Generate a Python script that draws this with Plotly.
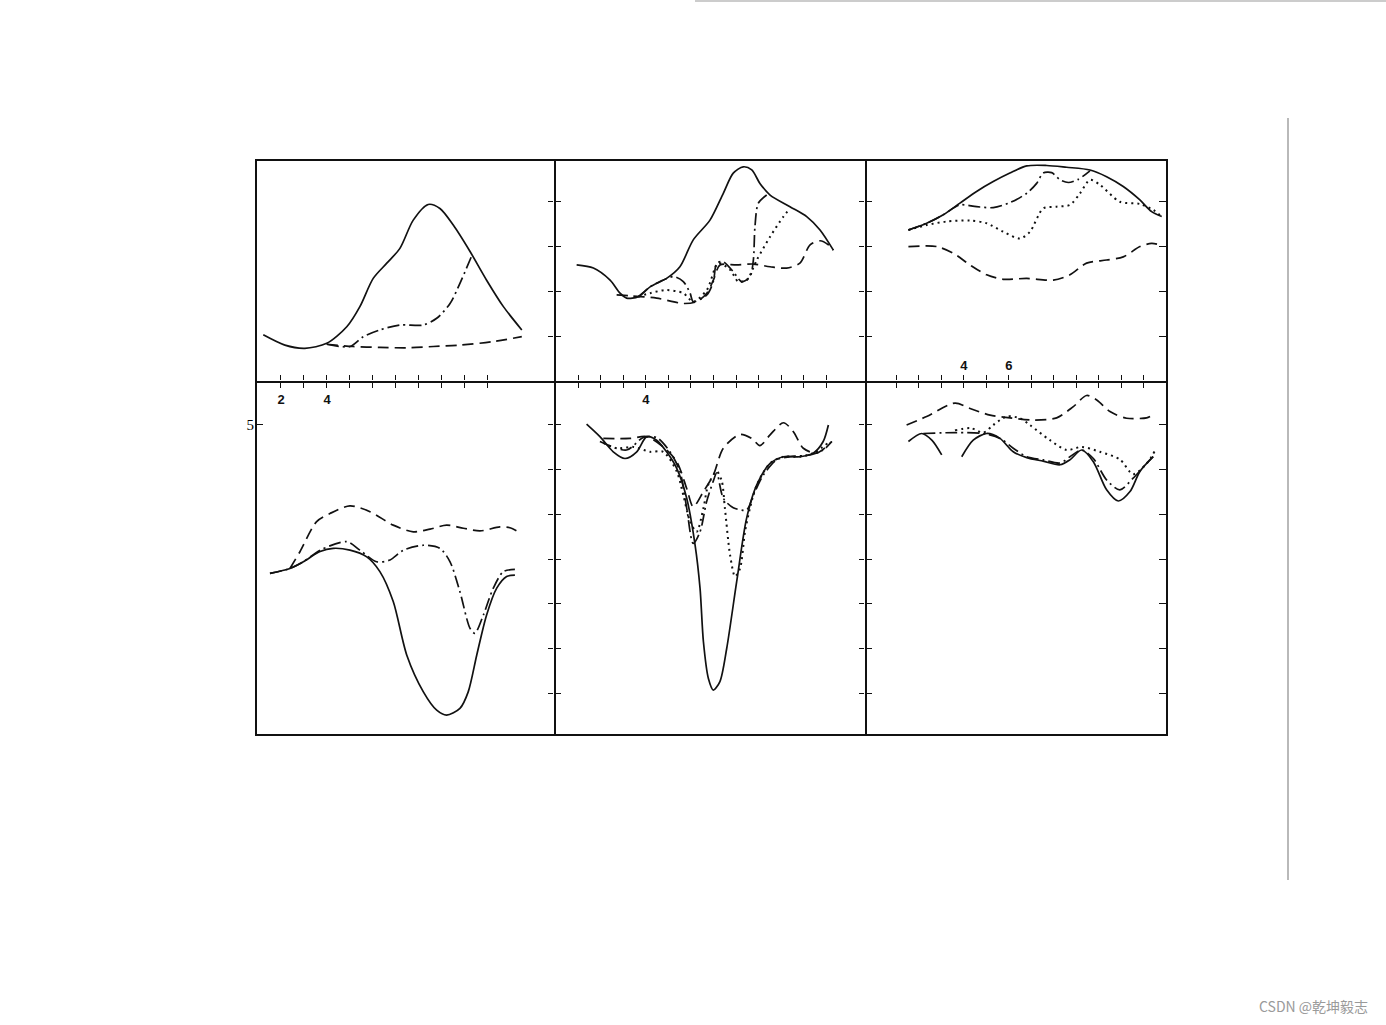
import plotly.graph_objects as go

# ---------------- data ----------------
# Panel 1 (top-left)
p1_solid_x = [1.23, 2.17, 3.04, 3.99, 4.86, 5.43, 6.01, 6.60, 7.17, 7.75, 8.40, 8.91, 9.49, 10.22, 10.94, 11.67, 12.47]
p1_solid_y = [1.03, 0.80, 0.73, 0.84, 1.21, 1.66, 2.29, 2.63, 2.96, 3.59, 3.94, 3.85, 3.48, 2.89, 2.25, 1.66, 1.14]
p1_dash_x = [3.99, 5.14, 6.30, 7.47, 8.62, 9.78, 11.23, 12.47]
p1_dash_y = [0.82, 0.77, 0.75, 0.74, 0.77, 0.80, 0.88, 0.99]
p1_dashdot_x = [3.99, 5.0, 5.58, 6.30, 7.17, 8.19, 8.77, 9.35, 9.78, 10.29]
p1_dashdot_y = [0.82, 0.77, 0.99, 1.14, 1.25, 1.25, 1.40, 1.73, 2.18, 2.79]

# Panel 2 (top-middle)
p2_solid_x = [0.94, 1.68, 2.42, 2.86, 3.15, 3.67, 4.19, 4.92, 5.51, 6.10, 6.84, 7.43, 7.87, 8.31, 8.69, 9.05, 9.50, 10.38, 11.12, 11.71, 12.30]
p2_solid_y = [2.59, 2.52, 2.25, 1.96, 1.85, 1.88, 2.10, 2.29, 2.55, 3.15, 3.59, 4.19, 4.64, 4.78, 4.71, 4.41, 4.15, 3.89, 3.67, 3.37, 2.92]
p2_dashdot_x = [3.67, 4.19, 4.63, 5.22, 5.66, 5.96, 6.10, 6.70, 6.99, 7.14, 7.43, 7.87, 8.24, 8.61, 8.76, 8.83, 8.98, 9.35]
p2_dashdot_y = [1.88, 2.10, 2.22, 2.33, 2.22, 1.96, 1.77, 1.92, 2.22, 2.63, 2.66, 2.44, 2.22, 2.33, 2.70, 3.44, 3.97, 4.15]
p2_dot_x = [3.67, 4.19, 4.92, 5.66, 6.10, 6.70, 7.21, 7.73, 8.09, 8.46, 8.91, 9.50, 10.09, 10.38]
p2_dot_y = [1.88, 1.96, 2.03, 1.96, 1.77, 2.03, 2.63, 2.48, 2.22, 2.25, 2.70, 3.22, 3.67, 3.85]
p2_dash_x = [2.71, 3.30, 4.48, 5.66, 6.25, 6.70, 6.99, 7.28, 8.02, 8.76, 9.50, 10.23, 10.82, 11.27, 11.71, 12.08, 12.30]
p2_dash_y = [1.92, 1.90, 1.85, 1.73, 1.77, 1.96, 2.25, 2.59, 2.59, 2.61, 2.55, 2.52, 2.63, 3.04, 3.13, 3.04, 2.92]

# Panel 3 (top-right)
p3_solid_x = [1.53, 2.34, 3.08, 3.82, 4.56, 5.30, 6.04, 6.79, 7.68, 8.56, 9.60, 10.34, 11.08, 11.82, 12.34, 12.79]
p3_solid_y = [3.37, 3.52, 3.71, 3.97, 4.23, 4.45, 4.64, 4.80, 4.81, 4.77, 4.71, 4.56, 4.34, 4.04, 3.78, 3.67]
p3_dashdot_x = [1.53, 2.34, 3.08, 3.82, 4.56, 5.30, 6.04, 6.79, 7.23, 7.52, 7.90, 8.27, 8.64, 9.08, 9.60]
p3_dashdot_y = [3.37, 3.52, 3.71, 3.93, 3.89, 3.87, 3.98, 4.19, 4.41, 4.64, 4.65, 4.49, 4.43, 4.50, 4.69]
p3_dot_x = [1.53, 2.34, 3.23, 4.27, 5.01, 5.75, 6.49, 6.93, 7.52, 8.12, 8.71, 9.16, 9.60, 10.04, 10.93, 11.82, 12.41, 12.79]
p3_dot_y = [3.37, 3.48, 3.56, 3.58, 3.52, 3.33, 3.18, 3.33, 3.85, 3.89, 3.93, 4.19, 4.49, 4.38, 4.00, 3.95, 3.82, 3.67]
p3_dash_x = [1.53, 2.79, 3.53, 4.27, 5.01, 5.75, 6.79, 7.97, 8.71, 9.45, 10.34, 11.08, 11.82, 12.34, 12.71]
p3_dash_y = [3.00, 3.00, 2.85, 2.59, 2.37, 2.27, 2.29, 2.25, 2.37, 2.63, 2.70, 2.77, 3.00, 3.07, 3.04]

# Panel 4 (bottom-left)
p4_solid_x = [1.52, 2.39, 2.97, 3.70, 4.27, 5.00, 5.73, 6.30, 6.88, 7.47, 8.19, 8.77, 9.20, 9.78, 10.14, 10.51, 10.94, 11.38, 11.81, 12.17]
p4_solid_y = [1.68, 1.79, 1.94, 2.17, 2.24, 2.20, 2.05, 1.72, 1.05, -0.15, -0.97, -1.38, -1.49, -1.34, -0.97, -0.15, 0.75, 1.35, 1.61, 1.64]
p4_dashdot_x = [1.52, 2.39, 2.97, 3.70, 4.86, 5.43, 6.16, 6.74, 7.32, 8.19, 8.91, 9.35, 9.78, 10.22, 10.43, 10.80, 11.23, 11.67, 12.17]
p4_dashdot_y = [1.68, 1.79, 1.94, 2.20, 2.39, 2.20, 1.94, 1.98, 2.20, 2.31, 2.24, 1.94, 1.27, 0.45, 0.34, 0.75, 1.35, 1.72, 1.77]
p4_dash_x = [2.39, 2.83, 3.55, 4.13, 5.00, 5.87, 6.88, 7.75, 8.48, 9.20, 9.93, 10.65, 11.52, 11.96, 12.32]
p4_dash_y = [1.79, 2.17, 2.84, 3.02, 3.19, 3.06, 2.76, 2.61, 2.67, 2.76, 2.69, 2.63, 2.72, 2.70, 2.61]

# Panel 5 (bottom-middle)
p5_solid_x = [1.38, 1.97, 2.56, 3.08, 3.60, 4.04, 4.48, 4.92, 5.37, 5.81, 6.18, 6.40, 6.55, 6.77, 6.99, 7.28, 7.58, 8.02, 8.46, 8.91, 9.50, 10.09, 10.82, 11.41, 11.85, 12.08]
p5_solid_y = [5.02, 4.74, 4.40, 4.25, 4.40, 4.74, 4.66, 4.40, 4.03, 3.36, 2.32, 1.35, 0.15, -0.67, -0.93, -0.74, 0.00, 1.49, 2.91, 3.66, 4.14, 4.29, 4.29, 4.37, 4.63, 5.00]
p5_dashdot_x = [1.97, 3.15, 3.89, 4.48, 5.07, 5.51, 5.81, 6.10, 6.40, 6.69, 6.99, 7.14, 7.43, 7.87, 8.46, 8.76, 9.20, 9.79, 10.38, 11.27, 11.85, 12.23]
p5_dashdot_y = [4.63, 4.44, 4.72, 4.72, 4.40, 3.96, 3.14, 2.35, 2.61, 3.28, 3.75, 3.93, 3.36, 3.15, 3.10, 3.43, 3.88, 4.22, 4.29, 4.33, 4.44, 4.63]
p5_dot_x = [2.12, 2.71, 3.45, 4.19, 4.77, 5.37, 5.66, 5.96, 6.25, 6.55, 6.77, 7.14, 7.36, 7.50, 7.73, 7.95, 8.17, 8.39, 8.61, 8.91, 9.50, 10.09, 10.82, 11.41, 12.15]
p5_dot_y = [4.60, 4.48, 4.51, 4.40, 4.40, 3.96, 3.43, 2.84, 2.61, 3.14, 3.67, 3.96, 3.75, 3.14, 2.09, 1.61, 1.79, 2.61, 3.14, 3.66, 4.14, 4.29, 4.29, 4.37, 4.63]
p5_dash_x = [2.12, 3.30, 4.04, 4.77, 5.37, 5.81, 6.10, 6.55, 6.99, 7.43, 8.17, 8.69, 9.05, 9.50, 10.09, 10.53, 10.97, 11.56, 12.23]
p5_dash_y = [4.70, 4.70, 4.74, 4.51, 4.18, 3.58, 3.17, 3.51, 3.88, 4.48, 4.79, 4.70, 4.54, 4.78, 5.05, 4.85, 4.48, 4.37, 4.63]

# Panel 6 (bottom-right)
p6_dash_x = [1.45, 2.34, 3.60, 4.27, 5.16, 6.04, 7.08, 8.12, 8.86, 9.45, 9.90, 10.49, 11.23, 12.12, 12.27]
p6_dash_y = [5.00, 5.19, 5.49, 5.37, 5.22, 5.16, 5.11, 5.16, 5.41, 5.66, 5.56, 5.30, 5.15, 5.16, 5.19]
p6_solid_x = [1.53, 2.12, 2.57, 3.01, None, 3.90, 4.41, 5.01, 5.60, 6.19, 6.79, 7.52, 8.27, 8.71, 9.23, 9.75, 10.34, 10.86, 11.38, 11.82, 12.41]
p6_solid_y = [4.63, 4.81, 4.66, 4.33, None, 4.29, 4.66, 4.81, 4.70, 4.40, 4.27, 4.19, 4.11, 4.22, 4.44, 4.18, 3.55, 3.30, 3.51, 3.96, 4.29]
p6_dashdot_x = [2.19, 3.67, 4.86, 5.60, 6.19, 6.79, 7.52, 8.27, 8.71, 9.23, 9.75, 10.34, 10.93, 11.52, 12.12, 12.41]
p6_dashdot_y = [4.81, 4.83, 4.81, 4.70, 4.48, 4.29, 4.22, 4.15, 4.29, 4.44, 4.25, 3.77, 3.55, 3.81, 4.14, 4.29]
p6_dot_x = [3.60, 4.30, 4.86, 5.30, 5.90, 6.49, 6.93, 7.82, 8.56, 9.23, 10.04, 10.93, 11.52, 12.12, 12.53]
p6_dot_y = [4.88, 4.93, 4.83, 5.00, 5.19, 5.15, 5.00, 4.66, 4.44, 4.51, 4.40, 4.23, 3.90, 4.14, 4.46]

# axis tick values / labels
col1_ticks = [2, 3, 4, 5, 6, 7, 8, 9, 10, 11]
col1_labels = ["2", "", "4", "", "", "", "", "", "", ""]
col2_ticks = [1, 2, 3, 4, 5, 6, 7, 8, 9, 10, 11, 12]
col2_labels = ["", "", "", "4", "", "", "", "", "", "", "", ""]
col3_ticks = [1, 2, 3, 4, 5, 6, 7, 8, 9, 10, 11, 12]
col3_labels = ["", "", "", "4", "", "6", "", "", "", "", "", ""]
top_yticks = [1, 2, 3, 4]
bottom_yticks = [-1, 0, 1, 2, 3, 4, 5]

# ---------------- layout geometry ----------------
W, H = 1386, 1025
def px(x):
    return x / W
def py(y):
    return 1 - y / H

col_dom = [[px(257), px(554)], [px(554), px(865)], [px(865), px(1166)]]
top_dom = [py(381), py(161)]
bot_dom = [py(734), py(381)]
col_xrange = [[0.957, 13.87], [-0.062, 13.70], [-0.40, 12.98]]
top_yrange = [0, 4.91]
bot_yrange = [-1.913, 5.984]

INK = "#111111"
styles = {
    "solid": dict(color=INK, width=1.7, dash="solid"),
    "dash": dict(color=INK, width=1.7, dash="11px,6px"),
    "dashdot": dict(color=INK, width=1.7, dash="12px,4px,2px,4px"),
    "dot": dict(color=INK, width=2.0, dash="2px,4px"),
}

fig = go.Figure()

def add(x, y, style, xa, ya):
    fig.add_trace(go.Scatter(x=x, y=y, mode="lines", line=dict(**styles[style], shape="spline", smoothing=0.8),
                             xaxis=xa, yaxis=ya, showlegend=False, hoverinfo="skip", connectgaps=False))

add(p1_dash_x, p1_dash_y, "dash", "x", "y")
add(p1_dashdot_x, p1_dashdot_y, "dashdot", "x", "y")
add(p1_solid_x, p1_solid_y, "solid", "x", "y")

add(p2_dash_x, p2_dash_y, "dash", "x2", "y2")
add(p2_dot_x, p2_dot_y, "dot", "x2", "y2")
add(p2_dashdot_x, p2_dashdot_y, "dashdot", "x2", "y2")
add(p2_solid_x, p2_solid_y, "solid", "x2", "y2")

add(p3_dash_x, p3_dash_y, "dash", "x3", "y3")
add(p3_dot_x, p3_dot_y, "dot", "x3", "y3")
add(p3_dashdot_x, p3_dashdot_y, "dashdot", "x3", "y3")
add(p3_solid_x, p3_solid_y, "solid", "x3", "y3")

add(p4_dash_x, p4_dash_y, "dash", "x4", "y4")
add(p4_dashdot_x, p4_dashdot_y, "dashdot", "x4", "y4")
add(p4_solid_x, p4_solid_y, "solid", "x4", "y4")

add(p5_dash_x, p5_dash_y, "dash", "x5", "y5")
add(p5_dot_x, p5_dot_y, "dot", "x5", "y5")
add(p5_dashdot_x, p5_dashdot_y, "dashdot", "x5", "y5")
add(p5_solid_x, p5_solid_y, "solid", "x5", "y5")

add(p6_dash_x, p6_dash_y, "dash", "x6", "y6")
add(p6_dot_x, p6_dot_y, "dot", "x6", "y6")
add(p6_dashdot_x, p6_dashdot_y, "dashdot", "x6", "y6")
add(p6_solid_x, p6_solid_y, "solid", "x6", "y6")

tickfont = dict(family="Liberation Sans", size=13, color=INK, weight="bold")
serif_font = dict(family="Liberation Serif", size=15, color="#000000")
LW = 1.8
common = dict(showgrid=False, zeroline=False, linecolor=INK, linewidth=LW,
              tickcolor=INK, tickwidth=1.3, ticklen=5, tickfont=tickfont, fixedrange=True)

lay = {}
xticks = [(col1_ticks, col1_labels), (col2_ticks, col2_labels), (col3_ticks, col3_labels)]
for c in range(3):
    tv, tt = xticks[c]
    top_tt = tt if c < 2 else [""] * len(tv)
    bot_tt = tt if c == 2 else [""] * len(tv)
    ya_top = "y" if c == 0 else "y%d" % (c + 1)
    # top row: line at top (mirror) and at divider, ticks pointing down
    lay["xaxis" + ("" if c == 0 else str(c + 1))] = dict(common, domain=col_dom[c], anchor=ya_top,
                                                         range=col_xrange[c], side="bottom", ticks="outside",
                                                         showline=True, mirror=True, tickvals=tv, ticktext=top_tt)
    # bottom row: ticks pointing up from the divider, no line (drawn by the top row)
    lay["xaxis%d" % (c + 4)] = dict(common, domain=col_dom[c], anchor="y%d" % (c + 4), range=col_xrange[c],
                                    side="top", ticks="outside", showline=False, tickvals=tv, ticktext=bot_tt)
    # bottom border of bottom row
    lay["xaxis%d" % (c + 7)] = dict(common, overlaying="x%d" % (c + 4), anchor="y%d" % (c + 4), range=col_xrange[c],
                                    side="bottom", ticks="", showline=True, showticklabels=False)

# y-axes, top row
lay["yaxis"] = dict(common, domain=top_dom, anchor="x", range=top_yrange, side="right", ticks="outside",
                    showline=True, mirror=True, tickvals=top_yticks, showticklabels=False)
lay["yaxis2"] = dict(common, domain=top_dom, anchor="x2", range=top_yrange, side="left", ticks="outside",
                     showline=False, tickvals=top_yticks, showticklabels=False)
lay["yaxis3"] = dict(common, domain=top_dom, anchor="x3", range=top_yrange, side="left", ticks="outside",
                     showline=False, tickvals=top_yticks, showticklabels=False)
lay["yaxis7"] = dict(common, overlaying="y2", anchor="x2", side="right", range=top_yrange, ticks="outside",
                     showline=True, tickvals=top_yticks, showticklabels=False)
lay["yaxis8"] = dict(common, overlaying="y3", anchor="x3", side="right", range=top_yrange, ticks="inside", ticklen=7,
                     showline=True, tickvals=top_yticks, showticklabels=False)
# y-axes, bottom row
lay["yaxis4"] = dict(common, domain=bot_dom, anchor="x4", range=bot_yrange, side="right", ticks="outside",
                     showline=True, mirror=True, tickvals=bottom_yticks, showticklabels=False)
lay["yaxis5"] = dict(common, domain=bot_dom, anchor="x5", range=bot_yrange, side="left", ticks="outside",
                     showline=False, tickvals=bottom_yticks, showticklabels=False)
lay["yaxis6"] = dict(common, domain=bot_dom, anchor="x6", range=bot_yrange, side="left", ticks="outside",
                     showline=False, tickvals=bottom_yticks, showticklabels=False)
lay["yaxis9"] = dict(common, overlaying="y4", anchor="x4", side="left", range=bot_yrange, ticks="inside", ticklen=6,
                     showline=False, tickvals=[5], ticktext=["5"], showticklabels=True, tickfont=serif_font,
                     ticklabelstandoff=2)
lay["yaxis10"] = dict(common, overlaying="y5", anchor="x5", side="right", range=bot_yrange, ticks="outside",
                      showline=True, tickvals=bottom_yticks, showticklabels=False)
lay["yaxis11"] = dict(common, overlaying="y6", anchor="x6", side="right", range=bot_yrange, ticks="inside", ticklen=7,
                      showline=True, tickvals=bottom_yticks, showticklabels=False)

# empty traces so the overlay axes are drawn
for xa, ya in [("x2", "y7"), ("x3", "y8"), ("x4", "y9"), ("x5", "y10"), ("x6", "y11"),
               ("x7", "y4"), ("x8", "y5"), ("x9", "y6")]:
    fig.add_trace(go.Scatter(x=[None], y=[None], mode="lines", xaxis=xa, yaxis=ya, showlegend=False, hoverinfo="skip"))

fig.update_layout(
    width=W, height=H, autosize=False,
    margin=dict(l=0, r=0, t=0, b=0),
    paper_bgcolor="white", plot_bgcolor="rgba(0,0,0,0)",
    showlegend=False,
    **lay,
)

# scan artefacts of the page
fig.add_shape(type="line", xref="paper", yref="paper", x0=px(695), x1=1.0, y0=py(1), y1=py(1),
              line=dict(color="#9a9a9a", width=1.2))
fig.add_shape(type="line", xref="paper", yref="paper", x0=px(1288), x1=px(1288), y0=py(118), y1=py(880),
              line=dict(color="#8a8a8a", width=1.2))

fig.add_annotation(x=px(1370), y=py(1006), xref="paper", yref="paper", xanchor="right", yanchor="middle",
                   text="CSDN @乾坤毅志", showarrow=False,
                   font=dict(family="Noto Sans CJK SC", size=14, color="#9a9a9a"))

fig.write_html("out.html", config={"displayModeBar": False},
               post_script="document.body.style.margin='0px';document.body.style.overflow='hidden';")
